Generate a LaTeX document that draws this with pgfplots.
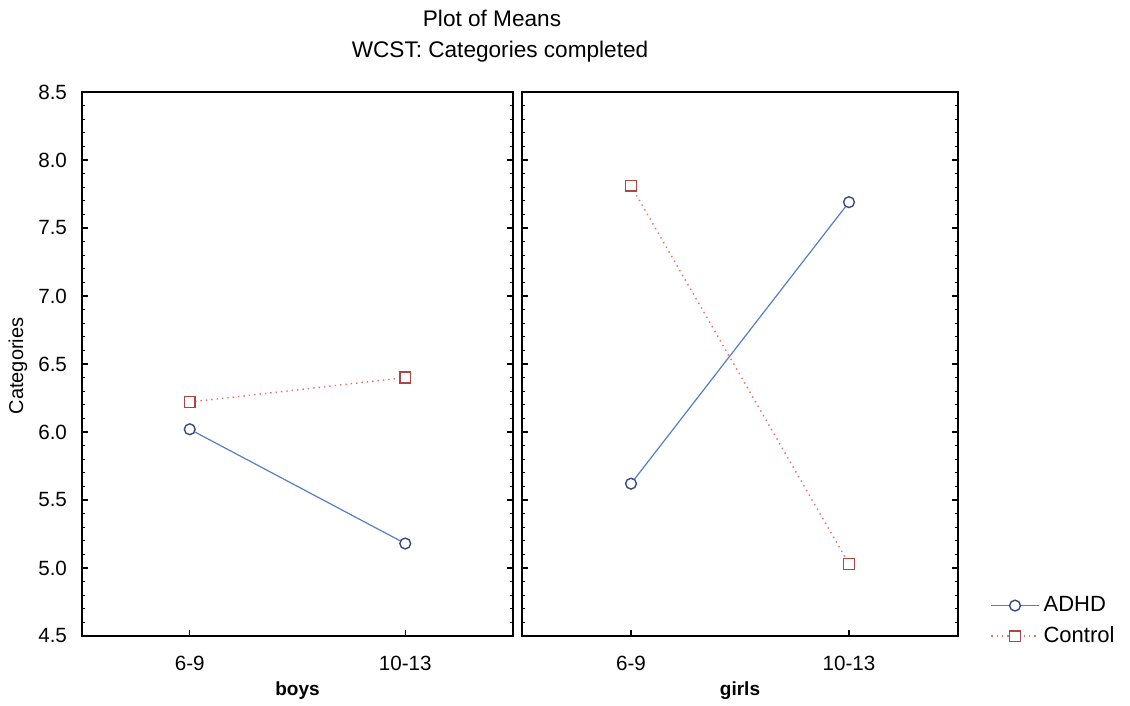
\documentclass[border=0pt]{standalone}
\usepackage{fontspec}
\setmainfont{Liberation Sans}
\usepackage{pgfplots}
\pgfplotsset{compat=1.18}
\definecolor{adhd}{RGB}{85,125,200}
\definecolor{adhdmark}{RGB}{55,75,130}
\definecolor{ctrl}{RGB}{230,115,100}
\definecolor{ctrlmark}{RGB}{175,70,70}
\begin{document}
\begin{tikzpicture}
\path (0pt,0pt) rectangle (565pt,351pt);
\pgfplotsset{
  panel/.style={
    scale only axis, width=215.5pt, height=272pt,
    xmin=-0.5,xmax=1.5, ymin=4.5,ymax=8.5,
    xtick={0,1}, xticklabels={6-9,10-13},
    ytick={4.5,5,5.5,6,6.5,7,7.5,8,8.5}, minor y tick num=4,
    xtick pos=left, ytick pos=both, tick align=inside,
    major tick length=3pt, minor tick length=1.6pt,
    axis line style={line width=0.9pt},
    tick style={black, line width=0.6pt},
    tick label style={font=\fontsize{10.3}{12}\selectfont},
    /pgf/number format/assume math mode=true,
    yticklabel style={/pgf/number format/.cd,fixed,fixed zerofill,precision=1,/tikz/.cd, xshift=-4pt},
    xticklabel style={yshift=-6.5pt},
    xlabel style={font=\bfseries\fontsize{9.5}{11}\selectfont, at={(axis description cs:0.5,-0.1)}, anchor=center},
    anchor=south west,
  },
  adhdplot/.style={adhd, line width=0.6pt, mark=*, mark size=2.7pt, mark options={draw=adhdmark, fill=white, solid, line width=0.7pt}},
  ctrlplot/.style={ctrl, dotted, line width=0.7pt, mark=square*, mark size=2.7pt, mark options={draw=ctrlmark, fill=white, solid, line width=0.8pt}},
}
\begin{axis}[panel, at={(41pt,33pt)}, xlabel={boys}]
\addplot[adhdplot] coordinates {(0,6.02) (1,5.18)};
\addplot[ctrlplot] coordinates {(0,6.22) (1,6.40)};
\end{axis}
\begin{axis}[panel, at={(261pt,33pt)}, width=218pt, xlabel={girls}, yticklabels={},
  legend style={at={(1,0)}, anchor=south west, xshift=13pt, yshift=-9pt, draw=none, fill=none, font=\fontsize{11}{13}\selectfont, row sep=2pt},
  legend cell align=left,
  legend image code/.code={\draw[mark repeat=2,mark phase=2,#1] plot coordinates {(0cm,0cm) (0.42cm,0cm) (0.84cm,0cm)};}]
\addplot[adhdplot] coordinates {(0,5.62) (1,7.69)};
\addlegendentry{ADHD}
\addplot[ctrlplot] coordinates {(0,7.81) (1,5.03)};
\addlegendentry{Control}
\end{axis}
\node[font=\fontsize{11.3}{13}\selectfont] at (246pt,342pt) {Plot of Means};
\node[font=\fontsize{11.3}{13}\selectfont] at (250pt,325pt) {WCST: Categories completed};
\node[rotate=90, font=\fontsize{10}{12}\selectfont] at (9pt,168pt) {Categories};
\end{tikzpicture}
\end{document}
